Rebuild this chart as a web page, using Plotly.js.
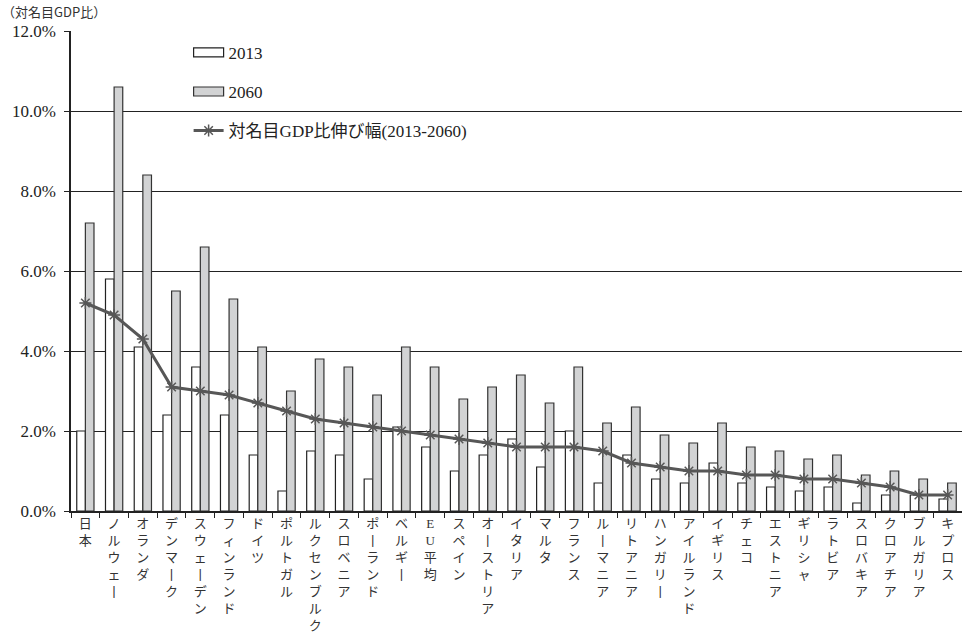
<!DOCTYPE html>
<html>
<head>
<meta charset="utf-8">
<script src="https://cdn.plot.ly/plotly-3.0.1.min.js"></script>
<style>
  html, body { margin: 0; padding: 0; background: #fff; }
  #chart { width: 962px; height: 635px; }
</style>
</head>
<body>
<div id="chart"></div>
<script>
// Countries, ordered by the rise in share of nominal GDP
const countries = [
  "日本", "ノルウェー", "オランダ", "デンマーク", "スウェーデン", "フィンランド",
  "ドイツ", "ポルトガル", "ルクセンブルク", "スロベニア", "ポーランド", "ベルギー",
  "EU平均", "スペイン", "オーストリア", "イタリア", "マルタ", "フランス",
  "ルーマニア", "リトアニア", "ハンガリー", "アイルランド", "イギリス", "チェコ",
  "エストニア", "ギリシャ", "ラトビア", "スロバキア", "クロアチア", "ブルガリア", "キプロス"
];

// Share of nominal GDP (%)
const values2013 = [
  2.0, 5.8, 4.1, 2.4, 3.6, 2.4, 1.4, 0.5, 1.5, 1.4, 0.8, 2.1, 1.6, 1.0, 1.4, 1.8,
  1.1, 2.0, 0.7, 1.4, 0.8, 0.7, 1.2, 0.7, 0.6, 0.5, 0.6, 0.2, 0.4, 0.4, 0.3
];
const values2060 = [
  7.2, 10.6, 8.4, 5.5, 6.6, 5.3, 4.1, 3.0, 3.8, 3.6, 2.9, 4.1, 3.6, 2.8, 3.1, 3.4,
  2.7, 3.6, 2.2, 2.6, 1.9, 1.7, 2.2, 1.6, 1.5, 1.3, 1.4, 0.9, 1.0, 0.8, 0.7
];
// Increase 2013-2060 (percentage points)
const increase = [
  5.2, 4.9, 4.3, 3.1, 3.0, 2.9, 2.7, 2.5, 2.3, 2.2, 2.1, 2.0, 1.9, 1.8, 1.7, 1.6,
  1.6, 1.6, 1.5, 1.2, 1.1, 1.0, 1.0, 0.9, 0.9, 0.8, 0.8, 0.7, 0.6, 0.4, 0.4
];

const yTickVals = [0, 2, 4, 6, 8, 10, 12];
const yTickText = ["0.0%", "2.0%", "4.0%", "6.0%", "8.0%", "10.0%", "12.0%"];

const seriesNames = ["2013", "2060", "対名目GDP比伸び幅(2013-2060)"];
const unitLabel = "（対名目GDP比）";

// Labels are set one character per line, as in vertical writing;
// the long-vowel mark turns upright in that direction.
const verticalLabels = countries.map(c =>
  Array.from(c).map(ch => ch === "ー" ? "丨" : ch).join("<br>")
);

const serif = "Liberation Serif, Noto Sans CJK JP, serif";
const cjk = "Noto Sans CJK JP, Liberation Serif, sans-serif";

const traces = [
  {
    type: "bar", name: seriesNames[0], x: countries, y: values2013,
    legendgroup: "a",
    marker: { color: "#ffffff", line: { color: "#222", width: 1.2 } }
  },
  {
    type: "bar", name: seriesNames[1], x: countries, y: values2060,
    legendgroup: "b",
    marker: { color: "#d2d3d4", line: { color: "#333", width: 1.2 } }
  },
  {
    type: "scatter", mode: "lines+markers", name: seriesNames[2],
    x: countries, y: increase, legendgroup: "c",
    line: { color: "#575757", width: 3 },
    marker: { symbol: "asterisk-open", size: 10, color: "#575757",
              line: { color: "#575757", width: 1.5 } }
  }
];

const layout = {
  width: 962, height: 635,
  margin: { l: 71, r: 0, t: 31, b: 124 },
  paper_bgcolor: "#fff", plot_bgcolor: "#fff",
  barmode: "group", bargap: 0.4, bargroupgap: 0,
  font: { family: serif, color: "#222" },
  xaxis: {
    type: "category",
    range: [-0.5, countries.length - 0.5],
    tickvals: countries, ticktext: verticalLabels,
    tickangle: 0,
    tickson: "boundaries",
    ticks: "outside", ticklen: 5, tickcolor: "#222", tickwidth: 1,
    showline: true, linecolor: "#222", linewidth: 1.5,
    showgrid: false,
    tickfont: { family: serif, size: 13, color: "#333" },
    automargin: false
  },
  yaxis: {
    range: [0, 12],
    tickvals: yTickVals, ticktext: yTickText,
    ticks: "outside", ticklen: 5, tickcolor: "#222", tickwidth: 1,
    ticklabelstandoff: 5,
    showline: true, linecolor: "#222", linewidth: 1.5,
    showgrid: true, gridcolor: "#222", gridwidth: 1.2,
    zeroline: false,
    tickfont: { family: serif, size: 17, color: "#222" },
    automargin: false
  },
  legend: {
    x: 0.132, y: 0.992, xanchor: "left", yanchor: "top",
    bgcolor: "rgba(0,0,0,0)",
    tracegroupgap: 14,
    font: { family: serif, size: 17, color: "#222" },
    itemclick: false, itemdoubleclick: false
  },
  annotations: [
    {
      text: unitLabel, xref: "paper", yref: "paper",
      x: -71 / 891, y: 1, xanchor: "left", yanchor: "bottom", yshift: 8,
      showarrow: false,
      font: { family: cjk, size: 13, color: "#333" }
    }
  ],
  showlegend: true
};

// Wider, flatter swatches for the bar entries in the legend
function widenBarSwatches(gd) {
  gd.querySelectorAll(".legend .legendpoints path").forEach(p => {
    const d = p.getAttribute("d") || "";
    if (/^M6,6H-6V-6H6Z$/.test(d.replace(/\s/g, ""))) {
      p.setAttribute("d", "M15,4.5H-15V-4.5H15Z");
    }
  });
}

Plotly.newPlot("chart", traces, layout, { displayModeBar: false })
  .then(gd => {
    widenBarSwatches(gd);
    gd.on("plotly_afterplot", () => widenBarSwatches(gd));
    setTimeout(() => widenBarSwatches(gd), 50);
  });
</script>
</body>
</html>
